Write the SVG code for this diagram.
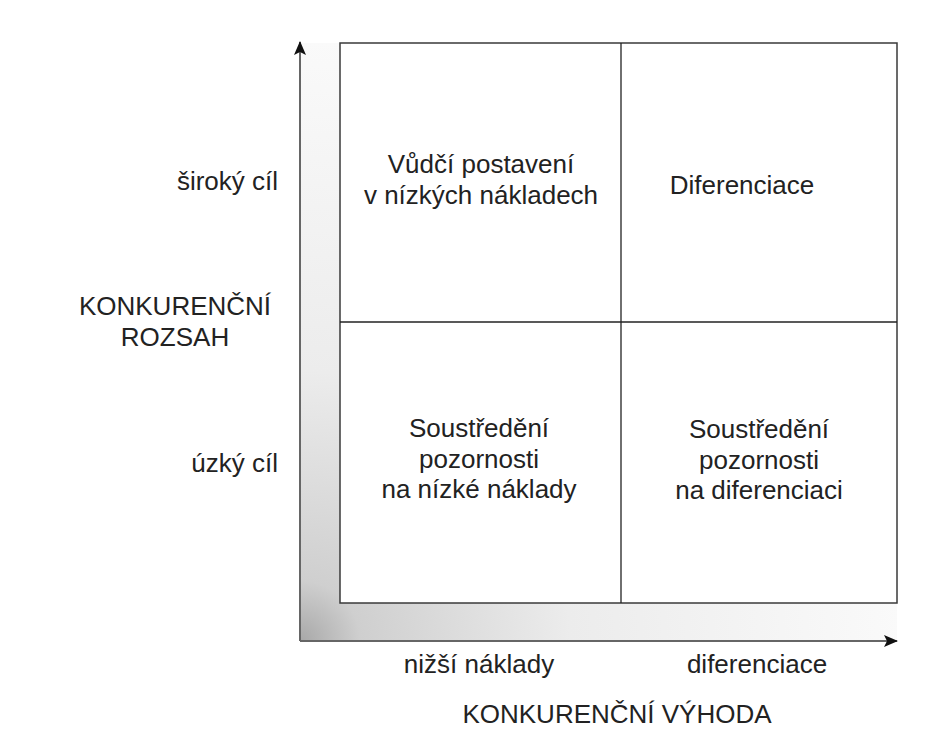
<svg xmlns="http://www.w3.org/2000/svg" width="928" height="749" viewBox="0 0 928 749">
<style>
text{font-family:"Liberation Sans",Arial,Helvetica,sans-serif;font-size:26px;fill:#222;}
.m{text-anchor:middle}
.e{text-anchor:end}
.box{fill:none;stroke:#3a3a3a;stroke-width:1.5}
.div{stroke:#222;stroke-width:1.3}
.axis{stroke:#666;stroke-width:2;fill:none}
</style>
<defs>
<radialGradient id="shade" gradientUnits="userSpaceOnUse" cx="300" cy="641" r="600">
<stop offset="0" stop-color="#a8a8a8"/>
<stop offset="0.1" stop-color="#cfcfcf"/>
<stop offset="0.45" stop-color="#ececec"/>
<stop offset="1" stop-color="#fafafa"/>
</radialGradient>
<marker id="arr" viewBox="0 0 14 12" refX="13" refY="6" markerWidth="14" markerHeight="12" markerUnits="userSpaceOnUse" orient="auto">
<path d="M0,0 L14,6 L0,12 L3,6 Z" fill="#111"/>
</marker>
</defs>
<rect width="928" height="749" fill="#fff"/>
<g id="shading">
<path d="M300,43 L340,43 L340,603 L897,603 L897,641 L300,641 Z" fill="url(#shade)"/>
</g>
<g id="connectors">
<line class="axis" x1="300" y1="641" x2="300" y2="42" marker-end="url(#arr)"/>
<line class="axis" x1="300" y1="641" x2="897" y2="641" marker-end="url(#arr)"/>
</g>
<g id="matrix">
<rect class="box" x="340" y="43" width="557" height="560"/>
<line class="div" x1="621" y1="43" x2="621" y2="603"/>
<line class="div" x1="340" y1="322" x2="897" y2="322"/>
</g>
<g id="q1">
<text class="m" x="481" y="173">Vůdčí postavení</text>
<text class="m" x="481" y="204">v nízkých nákladech</text>
</g>
<g id="q2">
<text class="m" x="742" y="194">Diferenciace</text>
</g>
<g id="q3">
<text class="m" x="479" y="437">Soustředění</text>
<text class="m" x="479" y="468">pozornosti</text>
<text class="m" x="479" y="498">na nízké náklady</text>
</g>
<g id="q4">
<text class="m" x="759" y="438">Soustředění</text>
<text class="m" x="759" y="469">pozornosti</text>
<text class="m" x="759" y="499">na diferenciaci</text>
</g>
<g id="yaxis-labels">
<text class="e" x="278" y="190">široký cíl</text>
<text class="m" x="175" y="315">KONKURENČNÍ</text>
<text class="m" x="175" y="346">ROZSAH</text>
<text class="e" x="278" y="472">úzký cíl</text>
</g>
<g id="xaxis-labels">
<text class="m" x="479" y="673">nižší náklady</text>
<text class="m" x="757" y="673">diferenciace</text>
<text class="m" x="617" y="723">KONKURENČNÍ VÝHODA</text>
</g>
</svg>
